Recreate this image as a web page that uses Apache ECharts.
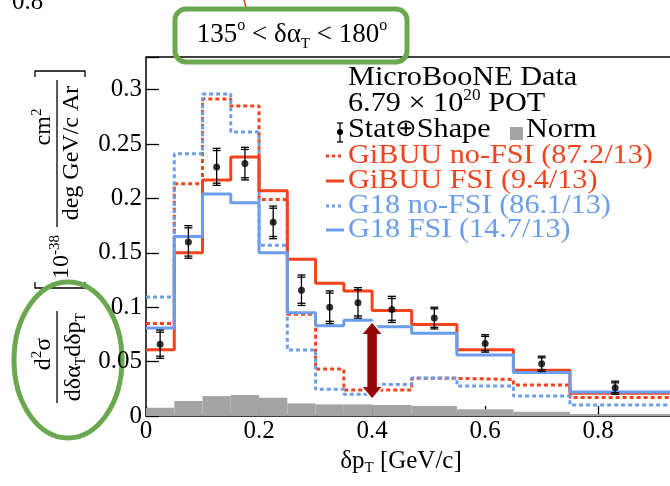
<!DOCTYPE html>
<html><head><meta charset="utf-8">
<script src="https://cdn.jsdelivr.net/npm/echarts@6/dist/echarts.min.js"></script>
<style>html,body{margin:0;padding:0;background:#fff}#c{width:670px;height:486px}</style>
</head><body><div id="c"></div>
<script>
// ---- data ----
const binEdges = [0, 0.05, 0.1, 0.15, 0.2, 0.25, 0.3, 0.35, 0.4, 0.47, 0.55, 0.65, 0.75, 1.0];
const gibuuFSI   = [0.061, 0.150, 0.217, 0.238, 0.207, 0.144, 0.122, 0.115, 0.097, 0.084, 0.061, 0.042, 0.021];
const gibuuNoFSI = [0.085, 0.2135, 0.2915, 0.285, 0.199, 0.0936, 0.0431, 0.0239, 0.0239, 0.0346, 0.0336, 0.0284, 0.0171];
const g18FSI     = [0.081, 0.165, 0.204, 0.196, 0.150, 0.095, 0.083, 0.088, 0.082, 0.076, 0.056, 0.040, 0.022];
const g18NoFSI   = [0.1095, 0.241, 0.296, 0.261, 0.157, 0.0606, 0.0245, 0.0199, 0.029, 0.035, 0.0275, 0.0183, 0.010];
const normUnc    = [0.0076, 0.0138, 0.0183, 0.0193, 0.0168, 0.0116, 0.0107, 0.0107, 0.0101, 0.0092, 0.0061, 0.0040, 0.0018];
const dataX      = [0.025, 0.075, 0.125, 0.175, 0.225, 0.275, 0.325, 0.375, 0.435, 0.51, 0.6, 0.7, 0.83];
const dataY      = [0.066, 0.160, 0.229, 0.232, 0.178, 0.1156, 0.100, 0.104, 0.098, 0.090, 0.0667, 0.048, 0.026];
const totErr     = [0.013, 0.015, 0.017, 0.015, 0.015, 0.014, 0.015, 0.014, 0.012, 0.010, 0.008, 0.007, 0.006];
const statErr    = [0.011, 0.013, 0.015, 0.013, 0.013, 0.012, 0.013, 0.012, 0.010, 0.0085, 0.0065, 0.0055, 0.0045];
const xTicks = [0, 0.2, 0.4, 0.6, 0.8];
const yTicks = [0, 0.05, 0.1, 0.15, 0.2, 0.25, 0.3];
const xVisibleMax = 0.927;   // picture is cropped at the right
const yMax = 0.33;
const legendLabels = ['GiBUU no-FSI (87.2/13)', 'GiBUU FSI (9.4/13)', 'G18 no-FSI (86.1/13)', 'G18 FSI (14.7/13)'];

// ---- style ----
const SERIF = '"Liberation Serif","Times New Roman",serif';
const RED = '#f4421c', BLUE = '#6b9ded', GRAY = '#a4a4a4', GREEN = '#6aa84f', DARKRED = '#960606';

function stepData(vals) {
  const d = vals.map((v, i) => [binEdges[i], v]);
  d.push([binEdges[binEdges.length - 1], vals[vals.length - 1]]);
  return d;
}
function stepSeries(name, vals, color, dotted) {
  return {
    name, type: 'line', step: 'end', data: stepData(vals), symbol: 'none',
    lineStyle: { color, width: 3, type: dotted ? [4, 3] : 'solid' }, z: dotted ? 3 : 4,
    silent: true
  };
}

const chart = echarts.init(document.getElementById('c'), null, { renderer: 'canvas' });
chart.setOption({
  animation: false,
  backgroundColor: '#fff',
  grid: { left: 146, top: 57, right: 0, bottom: 70, show: false },
  xAxis: {
    type: 'value', min: 0, max: xVisibleMax, interval: 0.2,
    axisLine: { show: true, onZero: false, lineStyle: { color: '#000', width: 1.5 } },
    axisTick: { show: true, inside: true, length: 10, lineStyle: { color: '#000', width: 1.3 } },
    axisLabel: { color: '#000', fontFamily: SERIF, fontSize: 25, margin: 3, showMaxLabel: false,
      formatter: v => xTicks.some(t => Math.abs(t - v) < 1e-6) ? String(+v.toFixed(1)) : '' },
    splitLine: { show: false }
  },
  yAxis: {
    type: 'value', min: 0, max: yMax, interval: 0.05,
    axisLine: { show: true, lineStyle: { color: '#000', width: 1.5 } },
    axisTick: { show: true, inside: true, length: 13, lineStyle: { color: '#000', width: 1.3 } },
    axisLabel: { color: '#000', fontFamily: SERIF, fontSize: 25, margin: 4,
      formatter: v => yTicks.some(t => Math.abs(t - v) < 1e-6) ? String(+v.toFixed(2)) : '' },
    splitLine: { show: false }
  },
  series: [
    {
      name: 'Norm', type: 'custom', z: 1, silent: true,
      data: normUnc.map((v, i) => [binEdges[i], binEdges[i + 1], v]),
      renderItem: (params, api) => {
        const p0 = api.coord([api.value(0), api.value(2)]);
        const p1 = api.coord([api.value(1), 0]);
        return { type: 'rect', shape: { x: p0[0], y: p0[1], width: p1[0] - p0[0], height: p1[1] - p0[1] },
          style: { fill: GRAY } };
      }
    },
    stepSeries('GiBUU no-FSI', gibuuNoFSI, RED, true),
    stepSeries('G18 no-FSI', g18NoFSI, BLUE, true),
    stepSeries('GiBUU FSI', gibuuFSI, RED, false),
    stepSeries('G18 FSI', g18FSI, BLUE, false),
    {
      name: 'err', type: 'custom', z: 6, silent: true,
      data: dataX.map((x, i) => [x, dataY[i], totErr[i], statErr[i]]),
      renderItem: (params, api) => {
        const x = api.value(0), y = api.value(1), e = api.value(2), s = api.value(3);
        const t = api.coord([x, y + e]), b = api.coord([x, y - e]);
        const st = api.coord([x, y + s]), sb = api.coord([x, y - s]);
        const cx = t[0], hw = 4;
        const st1 = { stroke: '#000', lineWidth: 1.3 };
        const ln = (x1, y1, x2, y2) => ({ type: 'line', shape: { x1, y1, x2, y2 }, style: st1 });
        return { type: 'group', children: [
          ln(cx, t[1], cx, b[1]),
          ln(cx - hw, t[1], cx + hw, t[1]), ln(cx - hw, b[1], cx + hw, b[1]),
          ln(cx - hw, st[1], cx + hw, st[1]), ln(cx - hw, sb[1], cx + hw, sb[1])
        ] };
      }
    },
    {
      name: 'MicroBooNE Data', type: 'scatter', z: 7, silent: true,
      data: dataX.map((x, i) => [x, dataY[i]]),
      symbol: 'circle', symbolSize: 7, itemStyle: { color: '#000' }
    }
  ]
});

// ---- annotations ----
const px = (x, y) => chart.convertToPixel({ gridIndex: 0 }, [x, y]);
const aTop = px(0.40, 0.0867), aBot = px(0.40, 0.0153);
const cx = aTop[0], ty = aTop[1], by = aBot[1];
const hh = 13, hw = 11, sw = 5.5;
const frameTL = px(0, yMax), frameTR = px(xVisibleMax, yMax);

const fs = 28, SX = 1.08;
const legendRich = {
  n: { fontFamily: SERIF, fontSize: fs, lineHeight: 32 },
  sup: { fontFamily: SERIF, fontSize: 16, lineHeight: 16, verticalAlign: 'top' },
  op: { fontFamily: '"DejaVu Sans",sans-serif', fontSize: 24, lineHeight: 32 }
};
const rowsY = [156, 181, 206, 230];
const rowsColor = [RED, RED, BLUE, BLUE];
const rowsDotted = [true, false, true, false];

const graphics = [];
// top frame line
graphics.push({ type: 'line', shape: { x1: frameTL[0], y1: frameTL[1], x2: frameTR[0] + 2, y2: frameTR[1] }, style: { stroke: '#000', lineWidth: 1.5 } });
// legend rows
graphics.push({ type: 'text', x: 348, y: 78, scaleX: SX, style: { text: 'MicroBooNE Data', font: `${fs}px ${SERIF}`, fill: '#000', verticalAlign: 'middle' } });
graphics.push({ type: 'text', x: 348, y: 104, scaleX: SX, style: {
  text: '{n|6.79 × 10}{sup|20}{n| POT}', rich: legendRich, verticalAlign: 'middle', fill: '#000' } });
graphics.push({ type: 'text', x: 348, y: 130, scaleX: SX, style: { text: '{n|Stat}{op|⊕}{n|Shape}', rich: legendRich, fill: '#000', verticalAlign: 'middle' } });
graphics.push({ type: 'rect', shape: { x: 510, y: 127, width: 13, height: 13 }, style: { fill: GRAY } });
graphics.push({ type: 'text', x: 526, y: 130, scaleX: SX, style: { text: 'Norm', font: `${fs}px ${SERIF}`, fill: '#000', verticalAlign: 'middle' } });
// error marker in legend
graphics.push({ type: 'group', children: [
  { type: 'line', shape: { x1: 340, y1: 123, x2: 340, y2: 142 }, style: { stroke: '#000', lineWidth: 1.3 } },
  { type: 'line', shape: { x1: 337, y1: 123, x2: 343, y2: 123 }, style: { stroke: '#000', lineWidth: 1.3 } },
  { type: 'line', shape: { x1: 337, y1: 142, x2: 343, y2: 142 }, style: { stroke: '#000', lineWidth: 1.3 } },
  { type: 'circle', shape: { cx: 340, cy: 132, r: 3 }, style: { fill: '#000' } }
] });
legendLabels.forEach((lab, i) => {
  graphics.push({ type: 'line', shape: { x1: 326, y1: rowsY[i], x2: 344, y2: rowsY[i] },
    style: { stroke: rowsColor[i], lineWidth: 3, lineDash: rowsDotted[i] ? [3, 3] : null } });
  graphics.push({ type: 'text', x: 348, y: rowsY[i], scaleX: SX, style: { text: lab, font: `${fs}px ${SERIF}`, fill: rowsColor[i], verticalAlign: 'middle' } });
});

// title box
graphics.push({ type: 'rect', shape: { x: 175, y: 9, width: 232, height: 53, r: 11 }, style: { fill: 'none', stroke: GREEN, lineWidth: 5 } });
graphics.push({ type: 'text', x: 292, y: 18, style: {
  text: '{n|135}{sup|o}{n| < δα}{sub|T}{n| < 180}{sup|o}', align: 'center', verticalAlign: 'top', fill: '#000',
  rich: {
    n: { fontFamily: SERIF, fontSize: 27, lineHeight: 34 },
    sup: { fontFamily: SERIF, fontSize: 16, lineHeight: 18, verticalAlign: 'top' },
    sub: { fontFamily: SERIF, fontSize: 15, lineHeight: 15, verticalAlign: 'bottom' }
  } } });

// cut-off text from panel above
graphics.push({ type: 'text', x: 12, y: 2, style: { text: '0.8', font: `25px ${SERIF}`, fill: '#000', verticalAlign: 'middle' } });
graphics.push({ type: 'line', shape: { x1: 244, y1: 0, x2: 246, y2: 7 }, style: { stroke: RED, lineWidth: 1.5 } });

// x-axis title
graphics.push({ type: 'text', x: 401, y: 446, style: {
  text: '{n|δp}{sub|T}{n| [GeV/c]}', align: 'center', verticalAlign: 'top', fill: '#000',
  rich: {
    n: { fontFamily: SERIF, fontSize: 25, lineHeight: 30 },
    sub: { fontFamily: SERIF, fontSize: 15, lineHeight: 13, verticalAlign: 'bottom' }
  } } });

// y-axis title (rotated group, local x = up, local y = right)
const yr = {
  n: { fontFamily: SERIF, fontSize: 24, lineHeight: 28 },
  sup: { fontFamily: SERIF, fontSize: 15, lineHeight: 15, verticalAlign: 'top' },
  sub: { fontFamily: SERIF, fontSize: 14, lineHeight: 12, verticalAlign: 'bottom' }
};
graphics.push({ type: 'group', x: 0, y: 440, rotation: Math.PI / 2, children: [
  { type: 'text', x: 86, y: 44, style: { text: '{n|d}{sup|2}{n|σ}', rich: yr, align: 'center', verticalAlign: 'middle', fill: '#000' } },
  { type: 'line', shape: { x1: 37, y1: 57, x2: 129, y2: 57 }, style: { stroke: '#000', lineWidth: 1.3 } },
  { type: 'text', x: 83, y: 74, style: { text: '{n|dδα}{sub|T}{n|dδp}{sub|T}', rich: yr, align: 'center', verticalAlign: 'middle', fill: '#000' } },
  { type: 'polyline', shape: { points: [[158, 35], [152, 35], [152, 85], [158, 85]] }, style: { stroke: '#000', lineWidth: 1.3, fill: 'none' } },
  { type: 'text', x: 183, y: 62, style: { text: '{n|10}{sup|-38}', rich: yr, align: 'center', verticalAlign: 'middle', fill: '#000' } },
  { type: 'line', shape: { x1: 213, y1: 57, x2: 360, y2: 57 }, style: { stroke: '#000', lineWidth: 1.3 } },
  { type: 'text', x: 313, y: 44, style: { text: '{n|cm}{sup|2}', rich: yr, align: 'center', verticalAlign: 'middle', fill: '#000' } },
  { type: 'text', x: 287, y: 72, style: { text: 'deg GeV/c Ar', font: `24px ${SERIF}`, align: 'center', verticalAlign: 'middle', fill: '#000' } },
  { type: 'polyline', shape: { points: [[363, 35], [369, 35], [369, 85], [363, 85]] }, style: { stroke: '#000', lineWidth: 1.3, fill: 'none' } }
] });
// green ellipse
graphics.push({ type: 'ellipse', shape: { cx: 68, cy: 360, rx: 54, ry: 78 }, style: { fill: 'none', stroke: GREEN, lineWidth: 5 } });

// double arrow
graphics.push({ type: 'polygon', z: 20, shape: { points: [
  [cx, ty], [cx + hw, ty + hh], [cx + sw, ty + hh], [cx + sw, by - hh], [cx + hw, by - hh], [cx, by],
  [cx - hw, by - hh], [cx - sw, by - hh], [cx - sw, ty + hh], [cx - hw, ty + hh]] },
  style: { fill: DARKRED, stroke: '#fff', lineWidth: 1.5 } });

chart.setOption({ graphic: graphics });
</script>
</body></html>
